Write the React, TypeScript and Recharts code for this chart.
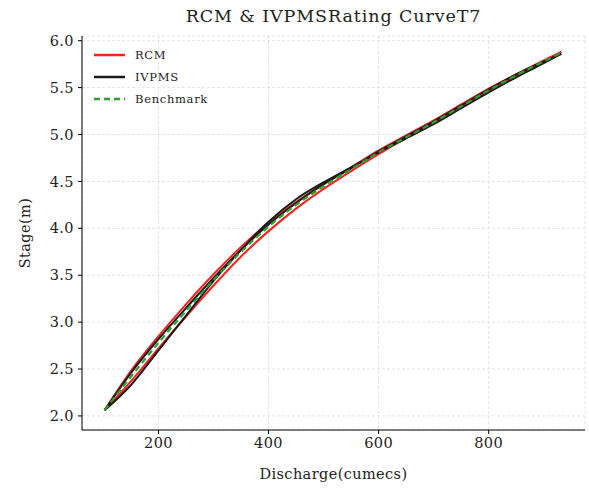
import React from 'react';
import { LineChart, Line, XAxis, YAxis, CartesianGrid } from 'recharts';

// discharge (cumecs) sampled along the curves
const discharge = [102, 150, 200, 250, 300, 350, 400, 450, 500, 550, 600, 650, 700, 750, 800, 850, 900, 932];

// stage (m) at each discharge
const benchmarkStage = [2.06, 2.42, 2.78, 3.12, 3.45, 3.75, 4.02, 4.25, 4.45, 4.63, 4.81, 4.97, 5.13, 5.3, 5.47, 5.63, 5.78, 5.87];
const rcmRisingStage = [2.06, 2.48, 2.85, 3.19, 3.51, 3.8, 4.06, 4.28, 4.47, 4.65, 4.83, 4.99, 5.15, 5.32, 5.49, 5.64, 5.79, 5.88];
const rcmFallingStage = [2.06, 2.37, 2.72, 3.06, 3.39, 3.7, 3.97, 4.21, 4.42, 4.61, 4.79, 4.96, 5.12, 5.29, 5.46, 5.62, 5.77, 5.88];
const ivpmsRisingStage = [2.06, 2.33, 2.7, 3.07, 3.44, 3.77, 4.07, 4.31, 4.49, 4.65, 4.81, 4.96, 5.11, 5.28, 5.45, 5.61, 5.76, 5.86];
const ivpmsFallingStage = [2.06, 2.46, 2.82, 3.15, 3.47, 3.77, 4.04, 4.27, 4.47, 4.64, 4.82, 4.98, 5.14, 5.31, 5.48, 5.64, 5.78, 5.86];

const xTicks = [200, 400, 600, 800];
const yTicks = [2.0, 2.5, 3.0, 3.5, 4.0, 4.5, 5.0, 5.5, 6.0];

const limb = (stage: number[]) => discharge.map((q, i) => ({ q, h: stage[i] }));

const font = '"DejaVu Serif", serif';
const tickStyle = { fontSize: 14.5, fill: '#222', fontFamily: font, letterSpacing: 0.4 };

const RED = '#ff2020';
const BLACK = '#1a1a1a';
const GREEN = '#2ca02c';

const legendItems = [
  { name: 'RCM', color: RED, dash: undefined },
  { name: 'IVPMS', color: BLACK, dash: undefined },
  { name: 'Benchmark', color: GREEN, dash: '6 4' },
];

export default function App() {
  return (
    <div style={{ position: 'absolute', left: 0, top: 0, width: 589, height: 488, background: '#fff' }}>
      <LineChart width={589} height={488} margin={{ top: 36, right: 4, left: 0, bottom: 0 }}>
        <CartesianGrid stroke="#e4e4e4" strokeDasharray="3 2" />
        <XAxis
          type="number"
          dataKey="q"
          domain={[61, 975]}
          ticks={xTicks}
          allowDataOverflow
          height={58}
          tick={tickStyle}
          tickSize={4}
          tickMargin={4}
          axisLine={{ stroke: '#000' }}
          tickLine={{ stroke: '#000' }}
          label={{
            value: 'Discharge(cumecs)',
            position: 'insideBottom',
            offset: 9,
            style: { fontSize: 14.5, fill: '#222', fontFamily: font, letterSpacing: 0.4 },
          }}
        />
        <YAxis
          type="number"
          domain={[1.85, 6.05]}
          ticks={yTicks}
          allowDataOverflow
          width={82}
          tick={tickStyle}
          tickSize={4}
          tickMargin={4}
          tickFormatter={(v: number) => v.toFixed(1)}
          axisLine={{ stroke: '#000' }}
          tickLine={{ stroke: '#000' }}
          label={{
            value: 'Stage(m)',
            angle: -90,
            position: 'insideLeft',
            offset: 25,
            style: { fontSize: 14.5, fill: '#222', fontFamily: font, letterSpacing: 0.4, textAnchor: 'middle' },
          }}
        />
        <Line data={limb(rcmRisingStage)} dataKey="h" type="monotone" stroke={RED} strokeWidth={2} dot={false} isAnimationActive={false} />
        <Line data={limb(rcmFallingStage)} dataKey="h" type="monotone" stroke={RED} strokeWidth={2} dot={false} isAnimationActive={false} />
        <Line data={limb(ivpmsRisingStage)} dataKey="h" type="monotone" stroke={BLACK} strokeWidth={2} dot={false} isAnimationActive={false} />
        <Line data={limb(ivpmsFallingStage)} dataKey="h" type="monotone" stroke={BLACK} strokeWidth={2} dot={false} isAnimationActive={false} />
        <Line
          data={limb(benchmarkStage)}
          dataKey="h"
          type="monotone"
          stroke={GREEN}
          strokeWidth={2.2}
          strokeDasharray="6 4"
          dot={false}
          isAnimationActive={false}
        />
      </LineChart>

      <div
        style={{
          position: 'absolute',
          left: 82,
          width: 503,
          top: 6,
          textAlign: 'center',
          fontFamily: font,
          fontSize: 17.5,
          letterSpacing: 0.9,
          color: '#222',
        }}
      >
        RCM &amp; IVPMSRating CurveT7
      </div>

      <div style={{ position: 'absolute', left: 91, top: 44, fontFamily: font, fontSize: 11.5, color: '#222', letterSpacing: 0.7 }}>
        {legendItems.map(it => (
          <div key={it.name} style={{ display: 'flex', alignItems: 'center', height: 22 }}>
            <svg width={44} height={10}>
              <line x1={3} y1={5} x2={34} y2={5} stroke={it.color} strokeWidth={2.5} strokeDasharray={it.dash} />
            </svg>
            <span>{it.name}</span>
          </div>
        ))}
      </div>
    </div>
  );
}
